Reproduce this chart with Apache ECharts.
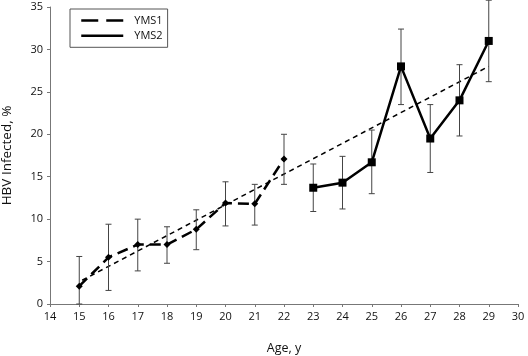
<!DOCTYPE html>
<html>
<head>
<meta charset="utf-8">
<script src="https://cdn.jsdelivr.net/npm/echarts@6/dist/echarts.min.js"></script>
<style>
  html, body { margin: 0; padding: 0; background: #fff; }
  #chart { width: 528px; height: 356px; }
</style>
</head>
<body>
<div id="chart"></div>
<script>
// 数据
var ages1 = [15, 16, 17, 18, 19, 20, 21, 22];
var yms1 = [2.1, 5.5, 7.0, 7.0, 8.8, 11.9, 11.8, 17.1];
var low1 = [0, 1.6, 3.9, 4.8, 6.4, 9.2, 9.3, 14.1];
var high1 = [5.6, 9.4, 10.0, 9.1, 11.1, 14.4, 14.1, 20.0];

var ages2 = [23, 24, 25, 26, 27, 28, 29];
var yms2 = [13.7, 14.3, 16.7, 28.0, 19.5, 24.0, 31.0];
var low2 = [10.9, 11.2, 13.0, 23.5, 15.5, 19.8, 26.2];
var high2 = [16.5, 17.4, 20.5, 32.4, 23.5, 28.2, 35.8];

// 趋势线两端
var trendX = [15.1, 29];
var trendY = [2.8, 28.0];

function pairs(xs, ys) {
  return xs.map(function (x, i) { return [x, ys[i]]; });
}
function errRows(xs, lo, hi) {
  return xs.map(function (x, i) { return [x, lo[i], hi[i]]; });
}

var errData = errRows(ages1, low1, high1).concat(errRows(ages2, low2, high2));

var font = 'Open Sans';
var myEchart = echarts.init(document.getElementById('chart'));
var option = {
  animation: false,
  grid: { left: 50, right: 10, top: 7, bottom: 52, outerBoundsMode: 'none', containLabel: false },
  legend: {
    left: 70,
    top: 9,
    orient: 'vertical',
    data: [
      { name: 'YMS1', lineStyle: { type: [17, 8], width: 2.5 } },
      { name: 'YMS2', lineStyle: { width: 2.5 } }
    ],
    itemWidth: 42,
    itemHeight: 10,
    itemGap: 4.3,
    padding: [6, 5, 6, 10],
    borderColor: '#555',
    borderWidth: 1,
    itemStyle: { opacity: 0 },
    textStyle: { fontFamily: font, fontSize: 11, color: '#111', padding: [0, 0, 0, 6] }
  },
  xAxis: {
    type: 'value',
    min: 14,
    max: 30,
    interval: 1,
    name: 'Age, y',
    nameLocation: 'middle',
    nameGap: 38,
    nameTextStyle: { fontFamily: font, fontSize: 12.5, color: '#111' },
    axisLine: { onZero: false, lineStyle: { color: '#777', width: 1 } },
    axisTick: { inside: false, length: 3, lineStyle: { color: '#777' } },
    axisLabel: { fontFamily: font, fontSize: 11, color: '#111', margin: 7 },
    splitLine: { show: false }
  },
  yAxis: {
    type: 'value',
    min: 0,
    max: 35,
    interval: 5,
    name: 'HBV Infected, %',
    nameLocation: 'middle',
    nameGap: 36,
    nameTextStyle: { fontFamily: font, fontSize: 13.5, color: '#111' },
    axisLine: { show: true, lineStyle: { color: '#777', width: 1 } },
    axisTick: { show: true, length: 3, lineStyle: { color: '#777' } },
    axisLabel: { fontFamily: font, fontSize: 11, color: '#111', margin: 7 },
    splitLine: { show: false }
  },
  series: [
    {
      name: 'trend',
      type: 'line',
      data: pairs(trendX, trendY),
      symbol: 'none',
      lineStyle: { color: '#000', width: 1.5, type: [5, 4] },
      z: 2
    },
    {
      name: 'err',
      type: 'custom',
      clip: false,
      data: errData,
      encode: { x: 0, y: [1, 2] },
      renderItem: function (params, api) {
        var x = api.value(0);
        var p1 = api.coord([x, api.value(1)]);
        var p2 = api.coord([x, api.value(2)]);
        var c = 3;
        var st = { stroke: '#444', lineWidth: 1 };
        return {
          type: 'group',
          children: [
            { type: 'line', shape: { x1: p1[0], y1: p1[1], x2: p2[0], y2: p2[1] }, style: st },
            { type: 'line', shape: { x1: p1[0] - c, y1: p1[1], x2: p1[0] + c, y2: p1[1] }, style: st },
            { type: 'line', shape: { x1: p2[0] - c, y1: p2[1], x2: p2[0] + c, y2: p2[1] }, style: st }
          ]
        };
      },
      z: 3
    },
    {
      name: 'YMS1',
      type: 'line',
      data: pairs(ages1, yms1),
      symbol: 'diamond',
      symbolSize: 7,
      itemStyle: { color: '#000' },
      lineStyle: { color: '#000', width: 2.5, type: [11, 6] },
      z: 4
    },
    {
      name: 'YMS2',
      type: 'line',
      data: pairs(ages2, yms2),
      symbol: 'rect',
      symbolSize: 8,
      itemStyle: { color: '#000' },
      lineStyle: { color: '#000', width: 2.5 },
      z: 4
    }
  ]
};
myEchart.setOption(option);
</script>
</body>
</html>
